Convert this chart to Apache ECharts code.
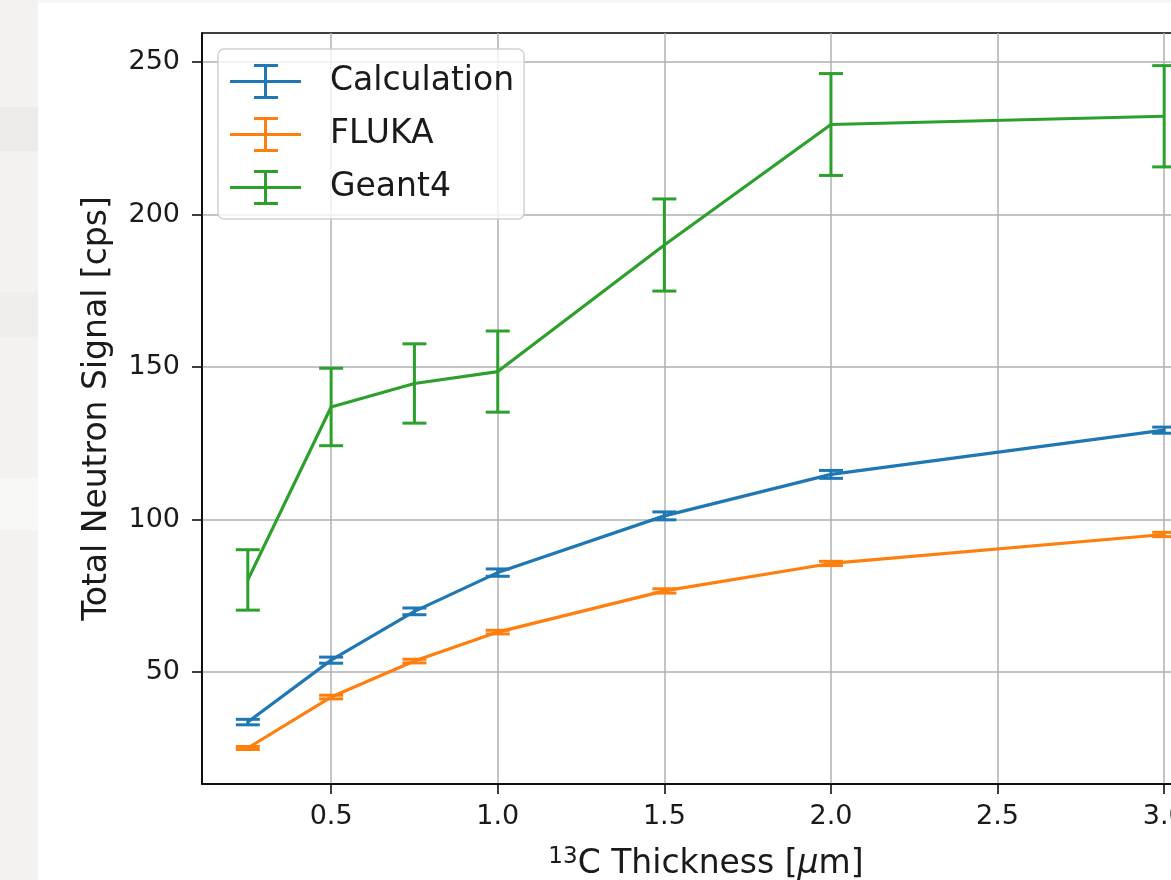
<!DOCTYPE html>
<html>
<head>
<meta charset="utf-8">
<script src="https://cdn.jsdelivr.net/npm/echarts@6/dist/echarts.min.js"></script>
<style>
  html, body { margin: 0; padding: 0; background: #fff; }
  #chart { width: 1171px; height: 880px; }
</style>
</head>
<body>
<div id="chart"></div>
<script>
// 13C thickness [um]
var thickness = [0.25, 0.5, 0.75, 1.0, 1.5, 2.0, 3.0];

var calcVals = [33.6, 53.9, 69.9, 82.6, 101.2, 114.8, 129.3];
var calcErr = [0.9, 1.0, 1.1, 1.2, 1.3, 1.3, 1.0];

var flukaVals = [25.1, 41.8, 53.6, 63.1, 76.6, 85.6, 95.1];
var flukaErr = [0.5, 0.6, 0.6, 0.6, 0.7, 0.7, 0.7];

var geantVals = [80.2, 136.9, 144.6, 148.5, 190.0, 229.5, 232.2];
var geantErr = [9.9, 12.7, 13.0, 13.3, 15.1, 16.7, 16.6];

var xTicks = [0.5, 1.0, 1.5, 2.0, 2.5, 3.0];
var yTicks = [50, 100, 150, 200, 250];

var names = ['Calculation', 'FLUKA', 'Geant4'];
var colors = ['#1f77b4', '#ff7f0e', '#2ca02c'];

var FONT = 'DejaVu Sans';

function pairs(vals) {
  return thickness.map(function (x, i) { return [x, vals[i]]; });
}
function errData(vals, err) {
  return thickness.map(function (x, i) { return [x, vals[i] - err[i], vals[i] + err[i]]; });
}

function errRender(color) {
  return function (params, api) {
    var top = api.coord([api.value(0), api.value(2)]);
    var bot = api.coord([api.value(0), api.value(1)]);
    var cap = 12;
    var st = { stroke: color, lineWidth: 3 };
    return {
      type: 'group',
      children: [
        { type: 'line', shape: { x1: top[0], y1: top[1], x2: bot[0], y2: bot[1] }, style: st },
        { type: 'line', shape: { x1: top[0] - cap, y1: top[1], x2: top[0] + cap, y2: top[1] }, style: st },
        { type: 'line', shape: { x1: bot[0] - cap, y1: bot[1], x2: bot[0] + cap, y2: bot[1] }, style: st }
      ]
    };
  };
}

// error bar glyph for legend
var errIcon = 'path://M0,16h71v3h-71z M34,0h3v35h-3z M24,0h24v3h-24z M24,32h24v3h-24z';

var allVals = [calcVals, flukaVals, geantVals];
var allErr = [calcErr, flukaErr, geantErr];

var series = [];
names.forEach(function (n, k) {
  series.push({
    name: n,
    type: 'line',
    data: pairs(allVals[k]),
    symbol: 'none',
    color: colors[k],
    lineStyle: { width: 3.2, color: colors[k] },
    z: 3 + k * 2
  });
  series.push({
    name: n,
    type: 'custom',
    data: errData(allVals[k], allErr[k]),
    renderItem: errRender(colors[k]),
    encode: { x: 0, y: [1, 2] },
    color: colors[k],
    z: 3 + k * 2
  });
});

var chart = echarts.init(document.getElementById('chart'));
chart.setOption({
  animation: false,
  backgroundColor: '#ffffff',
  textStyle: { fontFamily: FONT },
  graphic: [
    { type: 'rect', shape: { x: 0, y: 0, width: 38, height: 880 }, style: { fill: '#f3f2f0' }, z: -10 },
    { type: 'rect', shape: { x: 0, y: 107, width: 38, height: 44 }, style: { fill: '#ecebea' }, z: -9 },
    { type: 'rect', shape: { x: 0, y: 292, width: 38, height: 45 }, style: { fill: '#efeeec' }, z: -9 },
    { type: 'rect', shape: { x: 0, y: 478, width: 38, height: 52 }, style: { fill: '#f8f8f7' }, z: -9 },
    { type: 'rect', shape: { x: 38, y: 0, width: 1133, height: 3 }, style: { fill: '#f6f6f6' }, z: -9 }
  ],
  grid: {
    left: 202, right: -39, top: 33, bottom: 96,
    outerBoundsMode: 'none',
    containLabel: false,
    show: true,
    borderColor: '#000',
    borderWidth: 1.5
  },
  legend: {
    orient: 'vertical',
    left: 218, top: 49,
    padding: [15, 10, 14, 12],
    itemWidth: 71, itemHeight: 35, itemGap: 18,
    selectedMode: false,
    backgroundColor: 'rgba(255,255,255,0.8)',
    borderColor: 'rgba(204,204,204,0.9)',
    borderWidth: 1.5,
    borderRadius: 6,
    itemStyle: { borderWidth: 0 },
    textStyle: { fontFamily: FONT, fontSize: 33, color: '#1a1a1a', padding: [0, 0, 0, 24] },
    data: names.map(function (n) { return { name: n, icon: errIcon }; })
  },
  xAxis: {
    type: 'value',
    min: 0.1125, max: 3.1375,
    name: '{sup|13}C Thickness [{it|μ}m]',
    nameLocation: 'middle',
    nameGap: 62,
    nameTextStyle: {
      fontFamily: FONT, fontSize: 33, color: '#1a1a1a',
      rich: {
        sup: { fontFamily: FONT, fontSize: 23, color: '#1a1a1a', padding: [0, 0, 14, 0] },
        it: { fontFamily: FONT, fontSize: 33, fontStyle: 'italic', color: '#1a1a1a' }
      }
    },
    axisLine: { show: true, onZero: false, lineStyle: { color: '#000', width: 1.5 } },
    axisTick: { show: true, customValues: xTicks, length: 10, lineStyle: { color: '#000', width: 1.5 } },
    axisLabel: {
      customValues: xTicks, margin: 19,
      fontFamily: FONT, fontSize: 27, color: '#1a1a1a',
      formatter: function (v) { return v.toFixed(1); }
    },
    splitLine: { show: true, lineStyle: { color: '#b0b0b0', width: 1.5 } }
  },
  yAxis: {
    type: 'value',
    min: 13.3, max: 259.5,
    name: 'Total Neutron Signal [cps]',
    nameLocation: 'middle',
    nameGap: 88,
    nameTextStyle: { fontFamily: FONT, fontSize: 33, color: '#1a1a1a' },
    axisLine: { show: true, onZero: false, lineStyle: { color: '#000', width: 1.5 } },
    axisTick: { show: true, customValues: yTicks, length: 10, lineStyle: { color: '#000', width: 1.5 } },
    axisLabel: {
      customValues: yTicks, margin: 22,
      fontFamily: FONT, fontSize: 27, color: '#1a1a1a'
    },
    splitLine: { show: true, lineStyle: { color: '#b0b0b0', width: 1.5 } }
  },
  series: series
});
</script>
</body>
</html>
